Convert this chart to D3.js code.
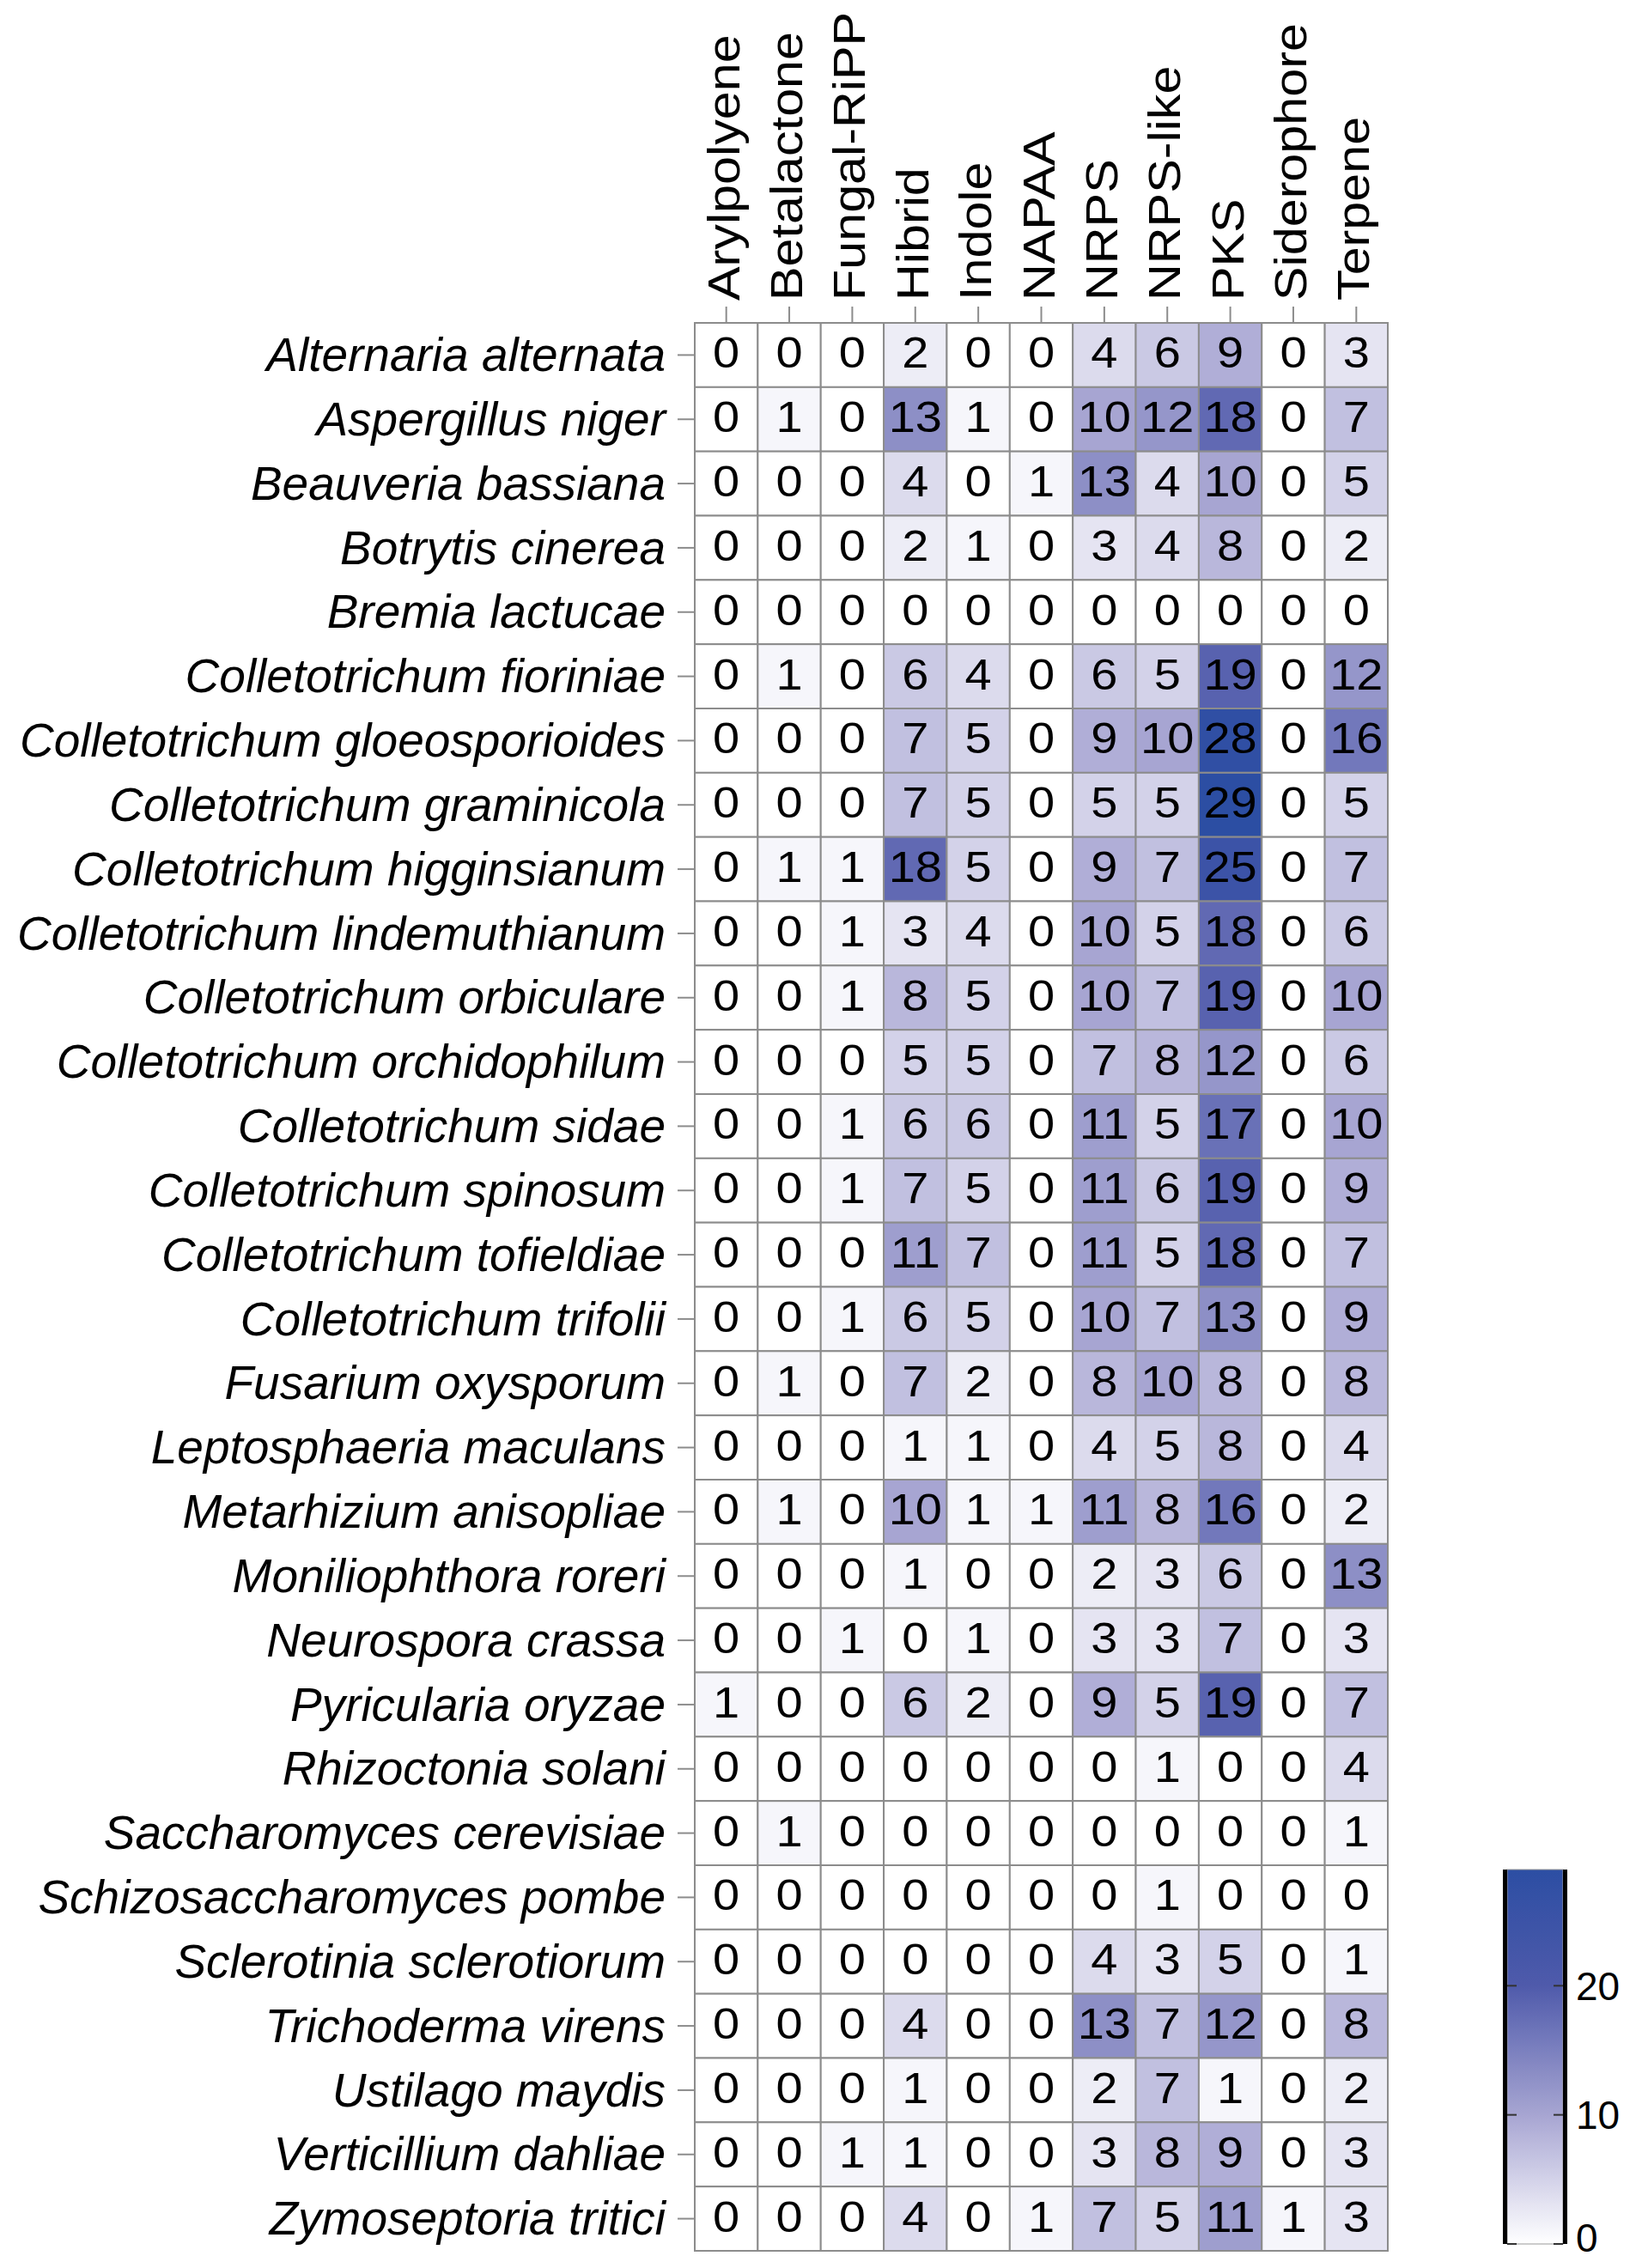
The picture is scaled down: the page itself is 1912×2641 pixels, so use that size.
<!DOCTYPE html>
<html>
<head>
<meta charset="utf-8">
<script src="https://cdn.jsdelivr.net/npm/d3@7/dist/d3.min.js"></script>
<style>
  html, body { margin: 0; padding: 0; background: #ffffff; }
  svg { display: block; }
  text { font-family: "Liberation Sans", Arial, Helvetica, sans-serif; fill: #000; }
</style>
</head>
<body>
<svg id="chart" width="1912" height="2641"></svg>
<script>
const classes = ["Arylpolyene", "Betalactone", "Fungal-RiPP", "Hibrid", "Indole", "NAPAA",
                 "NRPS", "NRPS-like", "PKS", "Siderophore", "Terpene"];

const species = [
  "Alternaria alternata", "Aspergillus niger", "Beauveria bassiana", "Botrytis cinerea",
  "Bremia lactucae", "Colletotrichum fioriniae", "Colletotrichum gloeosporioides",
  "Colletotrichum graminicola", "Colletotrichum higginsianum", "Colletotrichum lindemuthianum",
  "Colletotrichum orbiculare", "Colletotrichum orchidophilum", "Colletotrichum sidae",
  "Colletotrichum spinosum", "Colletotrichum tofieldiae", "Colletotrichum trifolii",
  "Fusarium oxysporum", "Leptosphaeria maculans", "Metarhizium anisopliae",
  "Moniliophthora roreri", "Neurospora crassa", "Pyricularia oryzae", "Rhizoctonia solani",
  "Saccharomyces cerevisiae", "Schizosaccharomyces pombe", "Sclerotinia sclerotiorum",
  "Trichoderma virens", "Ustilago maydis", "Verticillium dahliae", "Zymoseptoria tritici"
];

// one row per species, one value per class (same order as `classes`)
const counts = [
  [0, 0, 0, 2, 0, 0, 4, 6, 9, 0, 3],
  [0, 1, 0, 13, 1, 0, 10, 12, 18, 0, 7],
  [0, 0, 0, 4, 0, 1, 13, 4, 10, 0, 5],
  [0, 0, 0, 2, 1, 0, 3, 4, 8, 0, 2],
  [0, 0, 0, 0, 0, 0, 0, 0, 0, 0, 0],
  [0, 1, 0, 6, 4, 0, 6, 5, 19, 0, 12],
  [0, 0, 0, 7, 5, 0, 9, 10, 28, 0, 16],
  [0, 0, 0, 7, 5, 0, 5, 5, 29, 0, 5],
  [0, 1, 1, 18, 5, 0, 9, 7, 25, 0, 7],
  [0, 0, 1, 3, 4, 0, 10, 5, 18, 0, 6],
  [0, 0, 1, 8, 5, 0, 10, 7, 19, 0, 10],
  [0, 0, 0, 5, 5, 0, 7, 8, 12, 0, 6],
  [0, 0, 1, 6, 6, 0, 11, 5, 17, 0, 10],
  [0, 0, 1, 7, 5, 0, 11, 6, 19, 0, 9],
  [0, 0, 0, 11, 7, 0, 11, 5, 18, 0, 7],
  [0, 0, 1, 6, 5, 0, 10, 7, 13, 0, 9],
  [0, 1, 0, 7, 2, 0, 8, 10, 8, 0, 8],
  [0, 0, 0, 1, 1, 0, 4, 5, 8, 0, 4],
  [0, 1, 0, 10, 1, 1, 11, 8, 16, 0, 2],
  [0, 0, 0, 1, 0, 0, 2, 3, 6, 0, 13],
  [0, 0, 1, 0, 1, 0, 3, 3, 7, 0, 3],
  [1, 0, 0, 6, 2, 0, 9, 5, 19, 0, 7],
  [0, 0, 0, 0, 0, 0, 0, 1, 0, 0, 4],
  [0, 1, 0, 0, 0, 0, 0, 0, 0, 0, 1],
  [0, 0, 0, 0, 0, 0, 0, 1, 0, 0, 0],
  [0, 0, 0, 0, 0, 0, 4, 3, 5, 0, 1],
  [0, 0, 0, 4, 0, 0, 13, 7, 12, 0, 8],
  [0, 0, 0, 1, 0, 0, 2, 7, 1, 0, 2],
  [0, 0, 1, 1, 0, 0, 3, 8, 9, 0, 3],
  [0, 0, 0, 4, 0, 1, 7, 5, 11, 1, 3]
];

const colorStops = [0, 10, 20, 29];
const colorValues = ["#ffffff", "#a7a5d2", "#4f5aab", "#2c4ea3"];
const legendTicks = [0, 10, 20];

const svg = d3.select("#chart");

const gridLeft = 809, gridRight = 1616, gridTop = 376, gridBottom = 2621;

const x = d3.scaleBand().domain(classes).range([gridLeft, gridRight]).padding(0);
const y = d3.scaleBand().domain(species).range([gridTop, gridBottom]).padding(0);
const color = d3.scaleLinear().domain(colorStops).range(colorValues).clamp(true);

const cells = [];
counts.forEach((row, i) => row.forEach((v, j) => cells.push({ sp: species[i], cl: classes[j], v })));

const gridColor = "#8c8c8c";

// cells
svg.append("g").selectAll("rect").data(cells).join("rect")
  .attr("x", d => x(d.cl))
  .attr("y", d => y(d.sp))
  .attr("width", x.bandwidth())
  .attr("height", y.bandwidth())
  .attr("fill", d => color(d.v))
  .attr("stroke", gridColor)
  .attr("stroke-width", 2);

// cell numbers
svg.append("g").selectAll("text").data(cells).join("text")
  .attr("transform", d => `translate(${x(d.cl) + x.bandwidth() / 2},${y(d.sp) + y.bandwidth() / 2 + 15}) scale(1.12,1)`)
  .attr("text-anchor", "middle")
  .attr("font-size", 50)
  .text(d => d.v);

// left axis (species)
const yAxis = svg.append("g")
  .attr("transform", `translate(${gridLeft},0)`)
  .call(d3.axisLeft(y).tickSize(20).tickPadding(14));
yAxis.select(".domain").remove();
yAxis.selectAll(".tick line").attr("stroke", gridColor).attr("stroke-width", 2);
yAxis.selectAll(".tick text")
  .attr("font-size", 55)
  .attr("font-style", "italic")
  .attr("font-family", "'Liberation Sans', Arial, sans-serif")
  .attr("fill", "#000")
  .attr("dy", "0.34em");

// top axis (classes), labels rotated
const xAxis = svg.append("g")
  .attr("transform", `translate(0,${gridTop})`)
  .call(d3.axisTop(x).tickSize(19).tickFormat(""));
xAxis.select(".domain").remove();
xAxis.selectAll(".tick line").attr("stroke", gridColor).attr("stroke-width", 2);

svg.append("g").selectAll("text").data(classes).join("text")
  .attr("transform", d => `translate(${x(d) + x.bandwidth() / 2},350) rotate(-90) scale(1.14,1)`)
  .attr("text-anchor", "start")
  .attr("dy", 15)
  .attr("font-size", 52)
  .text(d => d);

// colour legend
const legY = d3.scaleLinear().domain([0, 29]).range([2613, 2177]);
const legX0 = 1755, legX1 = 1820;

const defs = svg.append("defs");
const grad = defs.append("linearGradient")
  .attr("id", "legGrad").attr("x1", 0).attr("y1", 1).attr("x2", 0).attr("y2", 0);
d3.range(0, 30).forEach(v => {
  grad.append("stop").attr("offset", v / 29).attr("stop-color", color(v));
});

svg.append("rect")
  .attr("x", legX0).attr("y", legY(29))
  .attr("width", legX1 - legX0).attr("height", legY(0) - legY(29))
  .attr("fill", "url(#legGrad)")
  .attr("stroke", "#9a9a9a").attr("stroke-width", 1);

// thick black side borders
[legX0 - 2.5, legX1 + 2.5].forEach(xx => {
  svg.append("line")
    .attr("x1", xx).attr("x2", xx)
    .attr("y1", legY(29)).attr("y2", legY(0))
    .attr("stroke", "#000").attr("stroke-width", 5);
});

const lt = svg.append("g").selectAll("g").data(legendTicks).join("g");
lt.append("line")
  .attr("x1", legX0).attr("x2", legX0 + 11)
  .attr("y1", d => legY(d)).attr("y2", d => legY(d))
  .attr("stroke", "#333").attr("stroke-width", 2);
lt.append("line")
  .attr("x1", legX1 - 11).attr("x2", legX1)
  .attr("y1", d => legY(d)).attr("y2", d => legY(d))
  .attr("stroke", "#333").attr("stroke-width", 2);
lt.append("text")
  .attr("x", 1835)
  .attr("y", d => legY(d) + (d === 0 ? -8 : 0))
  .attr("dy", "0.36em")
  .attr("font-size", 46)
  .text(d => d);
</script>
</body>
</html>
